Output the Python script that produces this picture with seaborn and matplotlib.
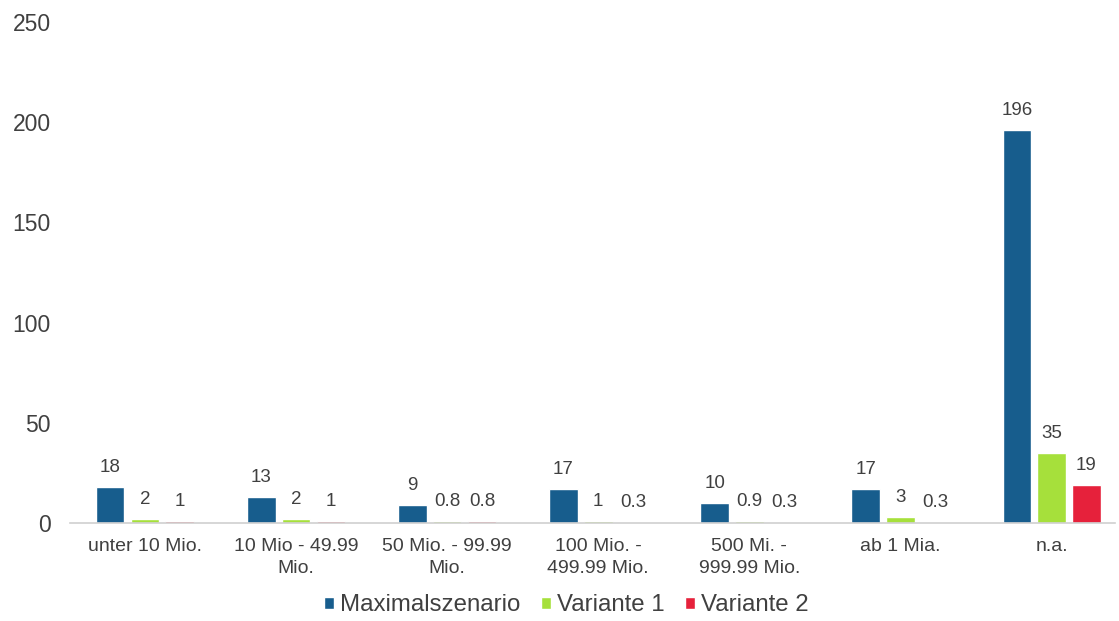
import pandas as pd
import seaborn as sns
import matplotlib.pyplot as plt

# Daten
kategorien = ["unter 10 Mio.", "10 Mio - 49.99\nMio.", "50 Mio. - 99.99\nMio.",
              "100 Mio. -\n499.99 Mio.", "500 Mi. -\n999.99 Mio.", "ab 1 Mia.", "n.a."]
maximalszenario = [18, 13, 9, 17, 10, 17, 196]
variante_1 = [2, 2, 0.8, 1, 0.9, 3, 35]
variante_2 = [1, 1, 0.8, 0.3, 0.3, 0.3, 19]
serien = ["Maximalszenario", "Variante 1", "Variante 2"]
farben = ["#175d8d", "#a6e03b", "#e6213b"]

df = pd.DataFrame({
    "kategorie": kategorien * 3,
    "wert": maximalszenario + variante_1 + variante_2,
    "serie": [s for s in serien for _ in kategorien],
})

sns.set_style("white")
plt.rcParams["font.family"] = ["Liberation Sans", "DejaVu Sans"]

fig = plt.figure(figsize=(11.19, 6.21), dpi=100)
ax = fig.add_axes([0.0626, 0.158, 0.9334, 0.8066])

sns.barplot(data=df, x="kategorie", y="wert", hue="serie", palette=farben,
            width=0.69, gap=0.18, ax=ax, saturation=1)

grau = "#404040"
for cont in ax.containers:
    ax.bar_label(cont, labels=[f"{v:g}" for v in cont.datavalues],
                 padding=8, fontsize=13.5, color=grau)

ax.set_ylim(0, 250)
ax.set_xlim(-0.496, 6.417)
ax.set_yticks([0, 50, 100, 150, 200, 250])
ax.set_xlabel("")
ax.set_ylabel("")
ax.tick_params(axis="y", labelsize=16.5, labelcolor=grau, length=0, pad=14)
ax.tick_params(axis="x", labelsize=14, labelcolor=grau, length=0, pad=11)
for lbl in ax.get_xticklabels():
    lbl.set_linespacing(1.35)
for s in ["top", "right", "left"]:
    ax.spines[s].set_visible(False)
ax.spines["bottom"].set_color("#d0d0d0")
ax.spines["bottom"].set_linewidth(1.2)

leg = ax.legend(loc="lower center", bbox_to_anchor=(0.475, -0.23), ncol=3,
                frameon=False, fontsize=17.3, handlelength=0.42, handleheight=0.42,
                handletextpad=0.25, columnspacing=0.85)
for t in leg.get_texts():
    t.set_color(grau)

plt.savefig("out.png", dpi=100)
